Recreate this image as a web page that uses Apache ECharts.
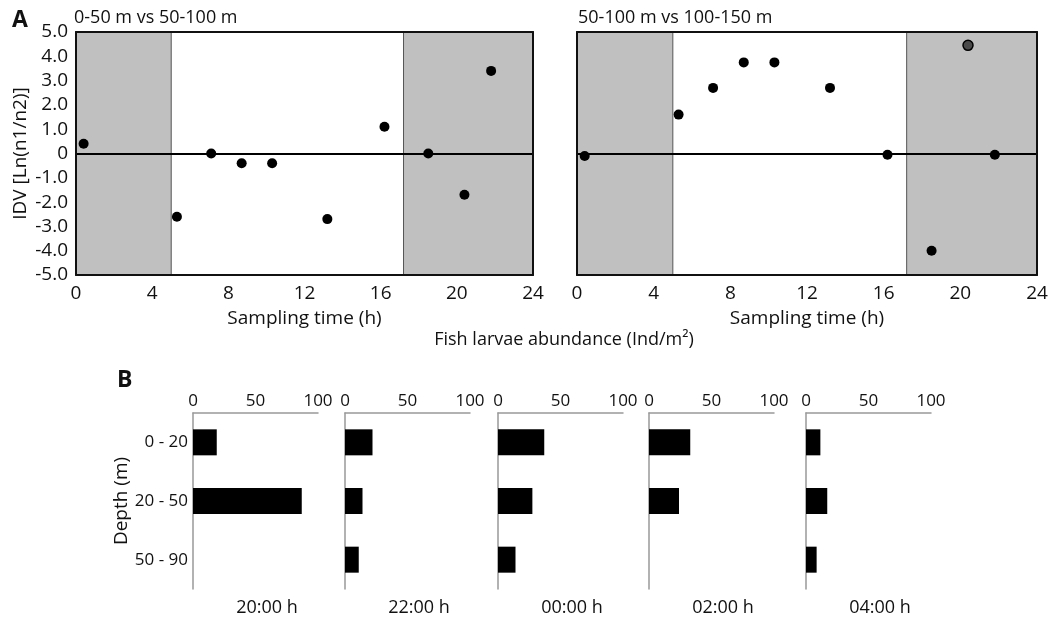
<!DOCTYPE html>
<html>
<head>
<meta charset="utf-8">
<script src="https://cdn.jsdelivr.net/npm/echarts@6/dist/echarts.min.js"></script>
<style>
html,body{margin:0;padding:0;background:#fff;}
#chart{width:1053px;height:619px;}
</style>
</head>
<body>
<div id="chart"></div>
<script>
// ---- Data ----
const sampleHours = [0.4, 5.3, 7.1, 8.7, 10.3, 13.2, 16.2, 18.5, 20.4, 21.8];
const idvShallow = [0.4, -2.6, 0, -0.4, -0.4, -2.7, 1.1, 0, -1.7, 3.4];   // 0-50 m vs 50-100 m
const idvDeep = [-0.1, 1.6, 2.7, 3.75, 3.75, 2.7, -0.05, -4.0, 4.45, -0.05]; // 50-100 m vs 100-150 m
const nightIntervals = [[0, 5.0], [17.2, 24]];
const idvTicks = [-5, -4, -3, -2, -1, 0, 1, 2, 3, 4, 5];
const hourTicks = [0, 4, 8, 12, 16, 20, 24];

const depthCategories = ['0 - 20', '20 - 50', '50 - 90'];
const timeLabels = ['20:00 h', '22:00 h', '00:00 h', '02:00 h', '04:00 h'];
const abund2000 = [19, 87, 0];
const abund2200 = [22, 14, 11];
const abund0000 = [37, 27.5, 14];
const abund0200 = [33, 24, 0];
const abund0400 = [11.5, 17, 8.5];
const abundanceTicks = [0, 50, 100];

// ---- Build ----
const FONT = 'Open Sans';
const TXT = '#111';
const chart = echarts.init(document.getElementById('chart'), null, {renderer: 'canvas'});

const grids = [
  {left: 76, top: 32, width: 457, height: 243},
  {left: 577, top: 32, width: 460, height: 243}
];
const barLefts = [193, 345, 498, 649, 806];
barLefts.forEach(l => grids.push({left: l, top: 413, width: 125, height: 176}));

const xAxes = [], yAxes = [], series = [];

function scatterPanel(gi, values, showY) {
  xAxes.push({
    gridIndex: gi, type: 'value', min: hourTicks[0], max: hourTicks[hourTicks.length - 1], interval: 4,
    position: 'bottom', z: 10,
    axisLine: {show: true, onZero: false, lineStyle: {color: '#111', width: 2}},
    axisTick: {show: false}, splitLine: {show: false},
    axisLabel: {color: TXT, fontFamily: FONT, fontSize: 19, margin: 9},
    name: 'Sampling time (h)', nameLocation: 'middle', nameGap: 34,
    nameTextStyle: {color: TXT, fontFamily: FONT, fontSize: 19}
  });
  const xi = xAxes.length - 1;
  xAxes.push({
    gridIndex: gi, type: 'value', min: 0, max: 24, position: 'top', z: 10,
    axisLine: {show: true, onZero: false, lineStyle: {color: '#111', width: 2}},
    axisTick: {show: false}, axisLabel: {show: false}, splitLine: {show: false}
  });
  yAxes.push({
    gridIndex: gi, type: 'value', min: idvTicks[0], max: idvTicks[idvTicks.length - 1], interval: 1,
    position: 'left', z: 10,
    axisLine: {show: true, onZero: false, lineStyle: {color: '#111', width: 2}},
    axisTick: {show: false}, splitLine: {show: false},
    axisLabel: {show: showY, color: TXT, fontFamily: FONT, fontSize: 19, margin: 8,
      formatter: v => v === 0 ? '0' : v.toFixed(1)},
    name: showY ? 'IDV [Ln(n1/n2)]' : '', nameLocation: 'middle', nameGap: 46, nameRotate: 90,
    nameTextStyle: {color: TXT, fontFamily: FONT, fontSize: 19}
  });
  const yi = yAxes.length - 1;
  yAxes.push({
    gridIndex: gi, type: 'value', min: -5, max: 5, position: 'right', z: 10,
    axisLine: {show: true, onZero: false, lineStyle: {color: '#111', width: 2}},
    axisTick: {show: false}, axisLabel: {show: false}, splitLine: {show: false}
  });
  series.push({
    type: 'scatter', xAxisIndex: xi, yAxisIndex: yi, symbolSize: 10, z: 5,
    data: sampleHours.map((h, i) => {
      const d = {value: [h, values[i]]};
      if (values[i] > 4.2) d.itemStyle = {color: '#4a4a4a', borderColor: '#000', borderWidth: 1.5, opacity: 1};
      return d;
    }),
    itemStyle: {color: '#000', opacity: 1},
    markArea: {
      silent: true,
      itemStyle: {color: '#c0c0c0', borderColor: '#555', borderWidth: 1},
      data: nightIntervals.map(iv => [{xAxis: iv[0]}, {xAxis: iv[1]}])
    },
    markLine: {
      silent: true, symbol: 'none', label: {show: false},
      lineStyle: {color: '#000', width: 2, type: 'solid'},
      data: [{yAxis: 0}]
    }
  });
}

scatterPanel(0, idvShallow, true);
scatterPanel(1, idvDeep, false);

const barData = [abund2000, abund2200, abund0000, abund0200, abund0400];
barData.forEach((vals, k) => {
  const gi = k + 2;
  xAxes.push({
    gridIndex: gi, type: 'value', min: abundanceTicks[0], max: abundanceTicks[2], interval: 50, position: 'top',
    axisLine: {show: true, onZero: false, lineStyle: {color: '#999', width: 1.5}},
    axisTick: {show: false}, splitLine: {show: false},
    axisLabel: {color: TXT, fontFamily: FONT, fontSize: 17, margin: 3}
  });
  const xi = xAxes.length - 1;
  yAxes.push({
    gridIndex: gi, type: 'category', data: depthCategories, inverse: true,
    axisLine: {show: true, lineStyle: {color: '#999', width: 1.5}},
    axisTick: {show: false}, splitLine: {show: false},
    axisLabel: {show: k === 0, color: TXT, fontFamily: FONT, fontSize: 17, margin: 5},
    name: k === 0 ? 'Depth (m)' : '', nameLocation: 'middle', nameGap: 62, nameRotate: 90,
    nameTextStyle: {color: TXT, fontFamily: FONT, fontSize: 19}
  });
  const yi = yAxes.length - 1;
  series.push({
    type: 'bar', xAxisIndex: xi, yAxisIndex: yi, data: vals,
    barWidth: 26, itemStyle: {color: '#000'}
  });
});

const titles = [
  {text: 'A', left: 7, top: 4, textStyle: {fontFamily: FONT, fontWeight: 'bold', fontSize: 23, color: TXT}},
  {text: '0-50 m vs 50-100 m', left: 69, top: 4, textStyle: {fontFamily: FONT, fontWeight: 'normal', fontSize: 18, color: TXT}},
  {text: '50-100 m vs 100-150 m', left: 573, top: 4, textStyle: {fontFamily: FONT, fontWeight: 'normal', fontSize: 18, color: TXT}},
  {text: 'B', left: 112, top: 364, textStyle: {fontFamily: FONT, fontWeight: 'bold', fontSize: 23, color: TXT}},
  {text: 'Fish larvae abundance (Ind/m²)', left: 559, top: 326, textAlign: 'center', textStyle: {fontFamily: FONT, fontWeight: 'normal', fontSize: 18, color: TXT}}
];
timeLabels.forEach((t, k) => {
  titles.push({text: t, left: barLefts[k] + 69, top: 594, textAlign: 'center',
    textStyle: {fontFamily: FONT, fontWeight: 'normal', fontSize: 18, color: TXT}});
});

chart.setOption({
  animation: false,
  backgroundColor: '#fff',
  title: titles,
  grid: grids,
  xAxis: xAxes,
  yAxis: yAxes,
  series: series
});
</script>
</body>
</html>
